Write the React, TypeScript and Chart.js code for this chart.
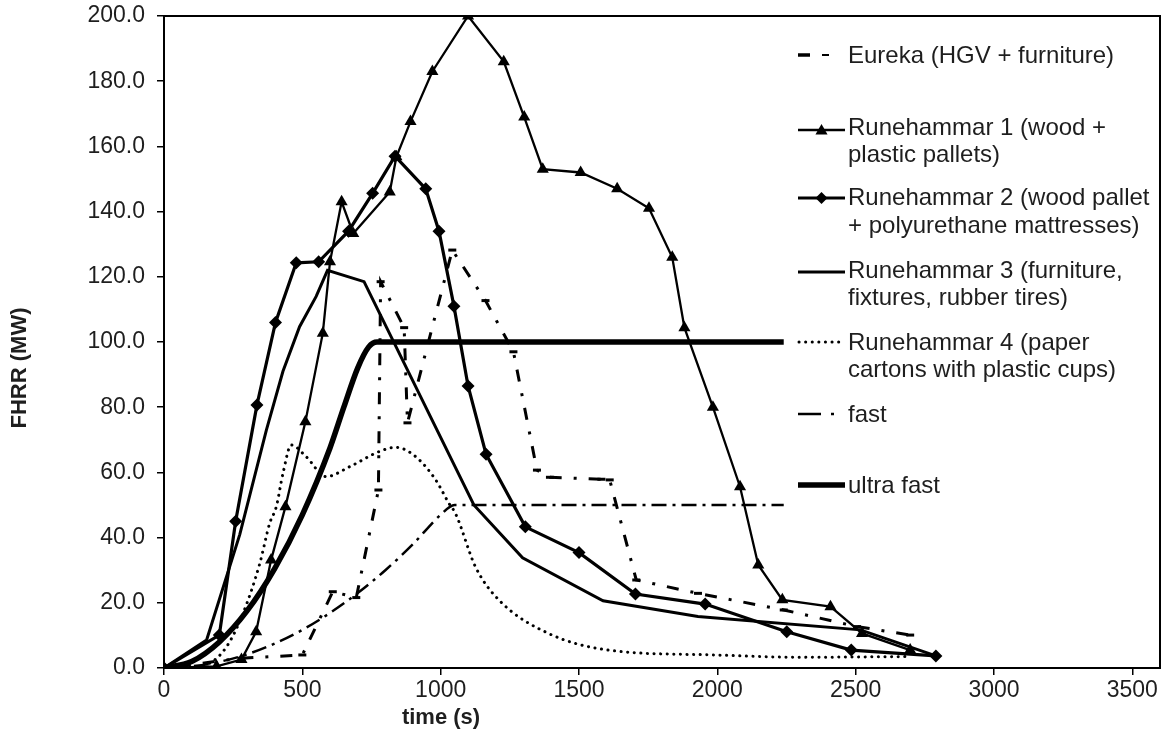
import React, { useEffect, useRef } from 'react';
import { Chart, registerables } from 'chart.js';

Chart.register(...registerables);

// ---------- data ----------
const xTicks = [0, 500, 1000, 1500, 2000, 2500, 3000, 3500];
const yTicks = [0, 20, 40, 60, 80, 100, 120, 140, 160, 180, 200];

const eurekaT = [0, 280, 500, 610, 695, 775, 783, 868, 880, 1042, 1162, 1263, 1348, 1395, 1581, 1611, 1707, 1930, 2240, 2505, 2697];
const eurekaV = [0, 3, 4, 23.4, 21.6, 54.6, 118.5, 104.4, 75.2, 128.2, 112.7, 97, 60.7, 58.5, 57.9, 57.7, 27, 22.9, 17.8, 12.7, 10.1];

const r1T = [0, 190, 280, 333, 387, 439, 511, 574, 600, 642, 684, 816, 840, 891, 970, 1099, 1228, 1302, 1369, 1506, 1638, 1753, 1837, 1881, 1984, 2082, 2148, 2235, 2409, 2523, 2697];
const r1V = [0, 0.5, 2.6, 11.1, 33.1, 49.5, 75.5, 102.7, 124.6, 143, 133.3, 146, 156.8, 167.6, 183, 200, 186, 169, 153, 152, 147, 141, 126, 104.4, 80, 55.6, 31.6, 20.9, 18.8, 10.6, 5.5];

const r2T = [0, 200, 259, 336, 403, 478, 559, 667, 754, 835, 946, 994, 1048, 1099, 1164, 1306, 1500, 1704, 1956, 2251, 2484, 2790];
const r2V = [0, 10.1, 45, 80.7, 106, 124.3, 124.6, 134, 145.6, 157, 147, 134, 111, 86.5, 65.6, 43.3, 35.4, 22.7, 19.6, 11.1, 5.5, 3.7];

const r3T = [0, 154, 274, 370, 430, 490, 550, 591, 723, 1120, 1296, 1587, 1930, 2517, 2790];
const r3V = [0, 8.6, 41, 73, 91, 104.7, 114, 122, 118.5, 50, 33.8, 20.6, 15.8, 11.7, 3.7];

const r4T = [0, 100, 166, 226, 286, 346, 382, 406, 430, 460, 514, 586, 670, 778, 838, 910, 982, 1030, 1053, 1126, 1210, 1390, 1606, 1990, 2289, 2697];
const r4V = [0, 0.3, 1.5, 6.5, 16.8, 32, 44.4, 49.5, 59.7, 68.4, 64.8, 58.7, 61.7, 66.4, 67.7, 64.8, 57.7, 50.5, 47.5, 31, 20.9, 10.6, 5.5, 4, 3.3, 3.5];

const fastT = [0, 100, 200, 300, 400, 500, 600, 700, 800, 900, 1000, 1050, 2240];
const fastV = [0, 0.5, 1.9, 4.2, 7.5, 11.7, 16.9, 23, 30, 38, 47, 50, 50];

const ultraT = [0, 100, 200, 300, 400, 500, 600, 650, 700, 740, 770, 2240];
const ultraV = [0, 2, 8, 17.5, 30.5, 47, 67.5, 80, 92, 98.5, 100, 100];

const seriesNames = [
  ['Eureka (HGV + furniture)'],
  ['Runehammar 1 (wood +', 'plastic pallets)'],
  ['Runehammar 2 (wood pallet', '+ polyurethane mattresses)'],
  ['Runehammar 3 (furniture,', 'fixtures, rubber tires)'],
  ['Runehammar 4 (paper', 'cartons with plastic cups)'],
  ['fast'],
  ['ultra fast'],
];

const xTitle = 'time (s)';
const yTitle = 'FHRR (MW)';

// ---------- helpers ----------
const pts = (t: number[], v: number[]) => t.map((x, i) => ({ x, y: v[i] }));
const FONT = "'Liberation Sans', Arial, sans-serif";
const TEXT = '#1e1e1e';

function tri(ctx: CanvasRenderingContext2D, cx: number, cy: number, r: number) {
  ctx.beginPath();
  ctx.moveTo(cx, cy - r);
  ctx.lineTo(cx + r * 0.866, cy + r * 0.5);
  ctx.lineTo(cx - r * 0.866, cy + r * 0.5);
  ctx.closePath();
  ctx.fill();
}
function dia(ctx: CanvasRenderingContext2D, cx: number, cy: number, r: number) {
  ctx.beginPath();
  ctx.moveTo(cx - r, cy);
  ctx.lineTo(cx, cy - r);
  ctx.lineTo(cx + r, cy);
  ctx.lineTo(cx, cy + r);
  ctx.closePath();
  ctx.fill();
}

const framePlugin = {
  id: 'frame',
  afterDatasetsDraw(chart: any) {
    const { ctx, chartArea: a } = chart;
    ctx.save();
    ctx.strokeStyle = '#000';
    ctx.lineWidth = 2;
    ctx.setLineDash([]);
    ctx.strokeRect(a.left, a.top, a.right - a.left, a.bottom - a.top);
    ctx.restore();
  },
};

const titlePlugin = {
  id: 'titles',
  afterDraw(chart: any) {
    const { ctx } = chart;
    ctx.save();
    ctx.fillStyle = TEXT;
    ctx.font = `bold 22px ${FONT}`;
    ctx.textAlign = 'center';
    ctx.textBaseline = 'middle';
    ctx.fillText(xTitle, 441, 718);
    ctx.translate(20, 368);
    ctx.rotate(-Math.PI / 2);
    ctx.fillText(yTitle, 0, 0);
    ctx.restore();
  },
};

const legendPlugin = {
  id: 'customLegend',
  afterDraw(chart: any) {
    const { ctx } = chart;
    const sampleY = [55, 130, 198, 272, 342, 414, 485];
    const baseY = [[63], [135, 162], [205, 233], [278, 305], [350, 377], [422], [493]];
    const x0 = 798, x1 = 845, tx = 848;
    ctx.save();
    ctx.strokeStyle = '#000';
    ctx.fillStyle = '#000';
    // Eureka
    ctx.lineWidth = 3.5; ctx.setLineDash([]); ctx.lineCap = 'butt';
    ctx.beginPath(); ctx.moveTo(x0, sampleY[0]); ctx.lineTo(x0 + 12, sampleY[0]); ctx.stroke();
    ctx.lineWidth = 2;
    ctx.beginPath(); ctx.moveTo(x0 + 24, sampleY[0]); ctx.lineTo(x0 + 31, sampleY[0]); ctx.stroke();
    // R1
    ctx.lineWidth = 2.3;
    ctx.beginPath(); ctx.moveTo(x0, sampleY[1]); ctx.lineTo(x1, sampleY[1]); ctx.stroke();
    tri(ctx, (x0 + x1) / 2, sampleY[1] + 1, 7);
    // R2
    ctx.lineWidth = 3.2;
    ctx.beginPath(); ctx.moveTo(x0, sampleY[2]); ctx.lineTo(x1, sampleY[2]); ctx.stroke();
    dia(ctx, (x0 + x1) / 2, sampleY[2], 6);
    // R3
    ctx.lineWidth = 3;
    ctx.beginPath(); ctx.moveTo(x0, sampleY[3]); ctx.lineTo(x1, sampleY[3]); ctx.stroke();
    // R4 dotted
    ctx.lineWidth = 3; ctx.lineCap = 'round'; ctx.setLineDash([0.1, 6.5]);
    ctx.beginPath(); ctx.moveTo(x0 + 1, sampleY[4]); ctx.lineTo(x1 - 1, sampleY[4]); ctx.stroke();
    // fast
    ctx.setLineDash([]); ctx.lineCap = 'butt'; ctx.lineWidth = 2.5;
    ctx.beginPath(); ctx.moveTo(x0, sampleY[5]); ctx.lineTo(x0 + 23, sampleY[5]); ctx.stroke();
    ctx.beginPath(); ctx.moveTo(x0 + 33, sampleY[5]); ctx.lineTo(x0 + 36, sampleY[5]); ctx.stroke();
    // ultra fast
    ctx.lineWidth = 5.5;
    ctx.beginPath(); ctx.moveTo(x0, sampleY[6]); ctx.lineTo(x1, sampleY[6]); ctx.stroke();

    ctx.fillStyle = TEXT;
    ctx.font = `24px ${FONT}`;
    ctx.textAlign = 'left';
    ctx.textBaseline = 'alphabetic';
    seriesNames.forEach((lines, i) => {
      lines.forEach((ln, j) => ctx.fillText(ln, tx, baseY[i][j]));
    });
    ctx.restore();
  },
};

export default function App() {
  const ref = useRef<HTMLCanvasElement | null>(null);
  useEffect(() => {
    if (!ref.current) return;
    const tickFont = { family: FONT, size: 23 };
    const chart = new Chart(ref.current, {
      type: 'line',
      data: {
        datasets: [
          {
            label: seriesNames[0].join(' '),
            data: pts(eurekaT, eurekaV),
            borderColor: '#000', backgroundColor: '#000',
            borderWidth: 3, borderDash: [12, 12, 3, 12],
            pointStyle: 'line', pointRadius: 4, pointBorderWidth: 3, pointBorderColor: '#000',
            tension: 0,
          },
          {
            label: seriesNames[1].join(' '),
            data: pts(r1T, r1V),
            borderColor: '#000', backgroundColor: '#000',
            borderWidth: 2.3,
            pointStyle: 'triangle', pointRadius: 7, pointBorderWidth: 0,
            tension: 0,
          },
          {
            label: seriesNames[2].join(' '),
            data: pts(r2T, r2V),
            borderColor: '#000', backgroundColor: '#000',
            borderWidth: 3.2,
            pointStyle: 'rectRot', pointRadius: 6.5, pointBorderWidth: 0,
            tension: 0,
          },
          {
            label: seriesNames[3].join(' '),
            data: pts(r3T, r3V),
            borderColor: '#000', backgroundColor: '#000',
            borderWidth: 3, pointRadius: 0,
            tension: 0,
          },
          {
            label: seriesNames[4].join(' '),
            data: pts(r4T, r4V),
            borderColor: '#000', backgroundColor: '#000',
            borderWidth: 3, borderDash: [0.1, 6.5], borderCapStyle: 'round',
            pointRadius: 0, cubicInterpolationMode: 'monotone',
          },
          {
            label: seriesNames[5].join(' '),
            data: pts(fastT, fastV),
            borderColor: '#000', backgroundColor: '#000',
            borderWidth: 2.5, borderDash: [15, 6, 3, 6],
            pointRadius: 0, cubicInterpolationMode: 'monotone',
          },
          {
            label: seriesNames[6].join(' '),
            data: pts(ultraT, ultraV),
            borderColor: '#000', backgroundColor: '#000',
            borderWidth: 5.5, pointRadius: 0, cubicInterpolationMode: 'monotone',
          },
        ],
      },
      options: {
        animation: false,
        responsive: false,
        devicePixelRatio: 1,
        layout: { padding: { top: 16, right: 4, left: 0, bottom: 0 } },
        plugins: { legend: { display: false }, tooltip: { enabled: false }, title: { display: false } },
        scales: {
          x: {
            type: 'linear', min: 0, max: 3600,
            afterBuildTicks: (s: any) => { s.ticks = xTicks.map((v) => ({ value: v })); },
            afterFit: (s: any) => { s.height = 67; s.paddingLeft = 0; s.paddingRight = 0; },
            ticks: { font: tickFont, color: TEXT, padding: 2, maxRotation: 0, autoSkip: false, callback: (v: any) => String(v) },
            grid: { drawOnChartArea: false, tickLength: 7, color: '#000', lineWidth: 1.5 },
            border: { color: '#000', width: 2 },
          },
          y: {
            type: 'linear', min: 0, max: 200,
            afterBuildTicks: (s: any) => { s.ticks = yTicks.map((v) => ({ value: v })); },
            afterFit: (s: any) => { s.width = 164; s.paddingTop = 0; s.paddingBottom = 0; },
            ticks: { font: tickFont, color: TEXT, padding: 12, autoSkip: false, callback: (v: any) => Number(v).toFixed(1) },
            grid: { drawOnChartArea: false, tickLength: 7, color: '#000', lineWidth: 1.5 },
            border: { color: '#000', width: 2 },
          },
        },
      },
      plugins: [framePlugin, legendPlugin, titlePlugin],
    } as any);
    return () => chart.destroy();
  }, []);
  return (
    <div style={{ position: 'fixed', left: 0, top: 0, width: 1167, height: 735, background: '#fff' }}>
      <canvas ref={ref} width={1167} height={735} style={{ width: 1167, height: 735, display: 'block' }} />
    </div>
  );
}
